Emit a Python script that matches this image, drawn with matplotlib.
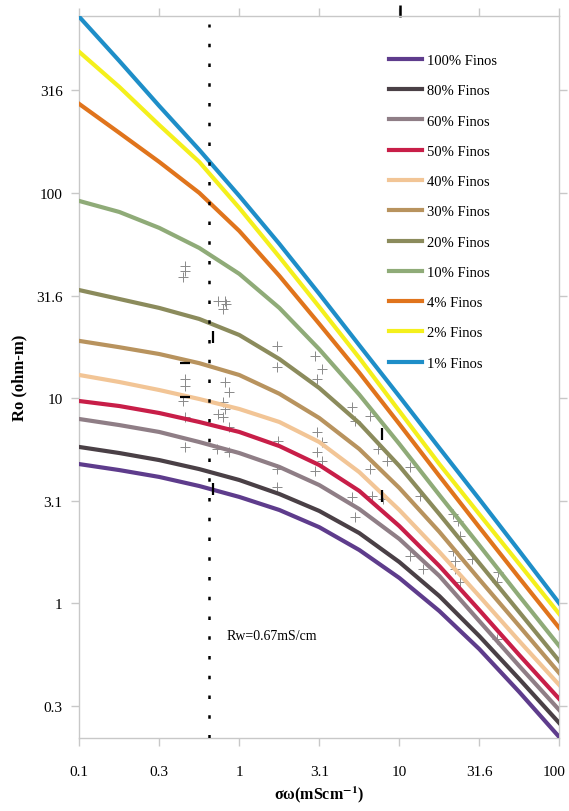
import numpy as np
import matplotlib.pyplot as plt
import matplotlib.transforms as mtransforms

plt.rcParams['font.family'] = ['Liberation Serif', 'DejaVu Serif']
plt.rcParams['mathtext.fontset'] = 'stix'

# conductividad del agua (mS/cm)
sw = [0.1, 0.178, 0.316, 0.562, 1.0, 1.78, 3.16, 5.62, 10, 17.8, 31.6, 56.2, 100]

labels = ['100% Finos', '80% Finos', '60% Finos', '50% Finos', '40% Finos', '30% Finos',
          '20% Finos', '10% Finos', '4% Finos', '2% Finos', '1% Finos']
colors = ['#5e3c8c', '#4a4046', '#8f7e86', '#c81e48', '#f2c596', '#b8935e',
          '#8b8b5c', '#8fab78', '#e0741c', '#f4f01c', '#1e8ec8']

ro_100 = [4.77, 4.46, 4.13, 3.73, 3.30, 2.85, 2.35, 1.82, 1.33, 0.917, 0.599, 0.37, 0.223]
ro_80 = [5.78, 5.40, 4.99, 4.51, 3.99, 3.41, 2.82, 2.20, 1.59, 1.085, 0.693, 0.428, 0.261]
ro_60 = [7.91, 7.39, 6.84, 6.11, 5.40, 4.62, 3.77, 2.88, 2.06, 1.36, 0.82, 0.495, 0.302]
ro_50 = [9.68, 9.15, 8.46, 7.65, 6.84, 5.84, 4.72, 3.53, 2.38, 1.52, 0.928, 0.56, 0.342]
ro_40 = [12.96, 11.98, 10.95, 9.9, 8.85, 7.65, 6.11, 4.36, 2.85, 1.78, 1.085, 0.655, 0.40]
ro_30 = [19.0, 17.7, 16.4, 14.8, 12.96, 10.5, 8.0, 5.65, 3.65, 2.23, 1.31, 0.775, 0.457]
ro_20 = [33.6, 30.4, 27.5, 24.3, 20.3, 15.5, 11.2, 7.56, 4.67, 2.72, 1.57, 0.907, 0.523]
ro_10 = [91.3, 80.7, 67.5, 53.9, 40.3, 27.5, 17.3, 10.4, 5.98, 3.37, 1.92, 1.085, 0.619]
ro_4 = [271, 196, 141.5, 100, 65.2, 39.4, 23.0, 13.3, 7.48, 4.17, 2.35, 1.33, 0.758]
ro_2 = [486, 328, 214, 141.5, 84.4, 48.7, 27.8, 15.7, 8.65, 4.77, 2.72, 1.555, 0.887]
ro_1 = [720, 439, 265, 162, 96.6, 56.4, 32.2, 18.1, 10.2, 5.71, 3.22, 1.80, 1.00]
curves = [ro_100, ro_80, ro_60, ro_50, ro_40, ro_30, ro_20, ro_10, ro_4, ro_2, ro_1]

# datos medidos (cruces grises)
pts_x = [0.458, 0.458, 0.445, 0.736, 0.818, 0.830, 0.795, 1.72, 1.72, 2.97, 3.29, 3.06,
         0.458, 0.458, 0.818, 0.862, 0.445, 0.458, 0.458, 0.736, 0.795, 0.818, 0.795,
         0.862, 0.726, 0.862, 1.74, 1.72, 1.72, 3.06, 3.29, 3.06, 3.29, 2.97, 5.06, 5.28,
         6.56, 7.36, 8.37, 6.56, 11.7, 5.06, 5.28, 6.75, 7.91, 13.5, 21.7, 23.3, 23.9,
         21.7, 22.3, 28.5, 22.3, 23.9, 41.4, 40.8, 40.8, 11.7, 14.1]
pts_y = [44.0, 41.6, 38.9, 29.7, 29.7, 28.7, 27.2, 17.9, 14.2, 16.0, 13.9, 12.4,
         12.4, 11.5, 12.0, 10.7, 9.68, 8.09, 5.78, 8.37, 9.57, 8.85, 8.09,
         7.23, 5.65, 5.46, 6.18, 4.51, 3.69, 6.84, 6.11, 5.46, 4.94, 4.41, 9.05, 7.73,
         8.18, 5.65, 4.94, 4.51, 4.62, 3.30, 2.63, 3.33, 3.22, 3.33, 2.72, 2.52, 2.13,
         1.80, 1.61, 1.64, 1.47, 1.27, 1.42, 1.27, 0.67, 1.70, 1.47]
bar_x = [0.685, 0.685, 7.79, 7.79]
bar_y = [19.9, 3.61, 6.69, 3.33]
dash_x = [0.458, 0.458]
dash_y = [14.8, 10.1]

xticks = [0.1, 0.316, 1, 3.16, 10, 31.6, 100]
xticklabels = ['0.1', '0.3', '1', '3.1', '10', '31.6', '100']
yticks = [0.316, 1, 3.16, 10, 31.6, 100, 316]
yticklabels = ['0.3', '1', '3.1', '10', '31.6', '100', '316']

rw = 0.65

fig = plt.figure(figsize=(5.69, 8.12), dpi=100)
ax = fig.add_axes([0.1394, 0.0895, 0.8436, 0.8892])

ax.plot(pts_x, pts_y, '+', color='#8a8a8a', markersize=7, mew=0.7, zorder=2)
for ro, c, lab in zip(curves, colors, labels):
    ax.plot(sw, ro, color=c, lw=3, label=lab, zorder=3, solid_joinstyle='round')
ax.plot(bar_x, bar_y, '|', color='black', markersize=8, mew=1.6, zorder=4)
ax.plot(dash_x, dash_y, '_', color='black', markersize=7, mew=1.6, zorder=4)
ax.plot([10.1], [770], '|', color='black', markersize=8, mew=1.8, clip_on=False)

ax.axvline(rw, ymax=0.99, color='black', lw=1.8, linestyle=(0, (1.4, 6.5)), zorder=4)
ax.text(0.834, 0.695, 'Rw=0.67mS/cm', fontsize=10, va='center', ha='left')

ax.set_xscale('log')
ax.set_yscale('log')
ax.set_xlim(0.1, 100)
ax.set_ylim(0.22, 725)
ax.set_xticks(xticks)
ax.set_xticklabels(xticklabels)
ax.set_yticks(yticks)
ax.set_yticklabels(yticklabels)
ax.minorticks_off()
ax.tick_params(axis='both', which='both', direction='out', length=6, width=1,
               color='#c8c8c8', labelsize=11, top=True, right=True)
ax.tick_params(axis='x', pad=13)
ax.tick_params(axis='y', pad=6)
for s in ax.spines.values():
    s.set_color('#c8c8c8')
    s.set_linewidth(1)

# el ultimo rotulo (100) queda pegado al borde: correrlo un poco a la izquierda
last = ax.get_xticklabels()[-1]
last.set_transform(last.get_transform() + mtransforms.ScaledTranslation(-5 / 100, 0, fig.dpi_scale_trans))

ax.set_ylabel('Ro (ohm-m)', fontsize=12, fontweight='bold', labelpad=6)
ax.set_xlabel(r'σω(mScm$^{\mathbf{-1}}$)', fontsize=11.5, fontweight='bold', labelpad=4)

handles, labs = ax.get_legend_handles_labels()
ax.legend(handles, labs, loc='upper left', bbox_to_anchor=(0.645, 0.948), frameon=False,
          fontsize=10.5, handlelength=2.3, handletextpad=0.3, labelspacing=1.17,
          borderpad=0, borderaxespad=0)

fig.savefig('out.png', dpi=100)
